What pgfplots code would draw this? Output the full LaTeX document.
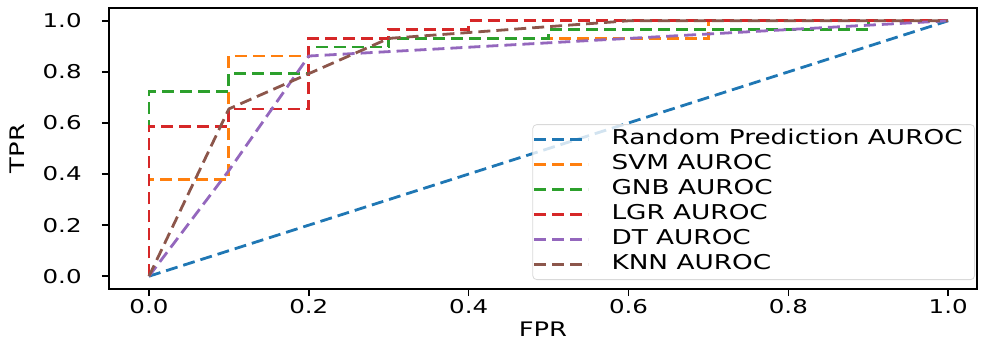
\documentclass[border=0pt]{standalone}
\usepackage{fontspec}
\setmainfont{DejaVu Sans}[FakeStretch=1.29]
\usepackage{graphicx}
\usepackage{pgfplots}
\pgfplotsset{compat=1.18}
\definecolor{c0}{HTML}{1F77B4}
\definecolor{c1}{HTML}{FF7F0E}
\definecolor{c2}{HTML}{2CA02C}
\definecolor{c3}{HTML}{D62728}
\definecolor{c4}{HTML}{9467BD}
\definecolor{c5}{HTML}{8C564B}
\newcommand{\rp}{\rule{6pt}{0pt}}
\begin{document}
\begin{tikzpicture}
\useasboundingbox (0,0) rectangle (491pt,171.5pt);
\begin{axis}[
  at={(54.5pt,27pt)}, anchor=south west,
  width=434pt, height=140.5pt, scale only axis,
  xmin=-0.05, xmax=1.036, ymin=-0.05, ymax=1.05,
  axis line style={line width=0.8pt},
  xtick={0,0.2,0.4,0.6,0.8,1.0}, ytick={0,0.2,0.4,0.6,0.8,1.0},
  xticklabels={0.0,0.2,0.4,0.6,0.8,1.0},
  yticklabels={0.0,0.2,0.4,0.6,0.8,1.0},
  tick align=outside, tick pos=left, major tick length=3.5pt,
  tick style={line width=0.8pt, black},
  /pgf/number format/assume math mode=true,
  tick label style={font=\fontsize{9.5}{11}\selectfont},
  xticklabel style={inner sep=0pt, anchor=north, yshift=-1.5pt},
  yticklabel style={inner sep=0pt, anchor=east, xshift=-10pt},
  xlabel={FPR}, ylabel={\rotatebox{90}{TPR}},
  every axis x label/.style={at={(axis description cs:0.5,0)}, anchor=center, yshift=-20pt, inner sep=0pt, font=\fontsize{10}{12}\selectfont},
  every axis y label/.style={at={(axis description cs:-0.106,0.5)}, anchor=center, inner sep=0pt, font=\fontsize{10}{12}\selectfont},
  every axis plot/.append style={line width=1.4pt, dash pattern=on 6pt off 3pt},
  legend cell align=left,
  legend image code/.code={\draw[#1] (0pt,0pt) -- (27pt,0pt);},
  legend style={
    at={(axis description cs:0.9977,0.032)}, anchor=south east,
    draw=black!15, rounded corners=2pt, fill=white, fill opacity=0.8, text opacity=1,
    font=\fontsize{10.2}{12}\selectfont,
    inner xsep=0pt, inner ysep=2.5pt, row sep=2.5pt,
    nodes={inner sep=0pt, text height=7.5pt, text depth=2.5pt},
    /tikz/every odd column/.append style={column sep=11pt},
  },
]
\addplot[c0] coordinates {(0,0) (1,1)};
\addlegendentry{Random Prediction AUROC\rp}
\addplot[c1] coordinates {(0,0) (0,0.379) (0.1,0.379) (0.1,0.862) (0.2,0.862) (0.2,0.931) (0.7,0.931) (0.7,1) (1,1)};
\addlegendentry{SVM AUROC}
\addplot[c2] coordinates {(0,0) (0,0.724) (0.1,0.724) (0.1,0.793) (0.2,0.793) (0.2,0.897) (0.3,0.897) (0.3,0.931) (0.5,0.931) (0.5,0.966) (0.9,0.966) (0.9,1) (1,1)};
\addlegendentry{GNB AUROC}
\addplot[c3] coordinates {(0,0) (0,0.586) (0.1,0.586) (0.1,0.655) (0.2,0.655) (0.2,0.931) (0.3,0.931) (0.3,0.966) (0.4,0.966) (0.4,1) (1,1)};
\addlegendentry{LGR AUROC}
\addplot[c4] coordinates {(0,0) (0.1,0.414) (0.2,0.862) (1,1)};
\addlegendentry{DT AUROC}
\addplot[c5] coordinates {(0,0) (0.1,0.655) (0.3,0.931) (0.6,1) (1,1)};
\addlegendentry{KNN AUROC}
\end{axis}
\end{tikzpicture}
\end{document}
